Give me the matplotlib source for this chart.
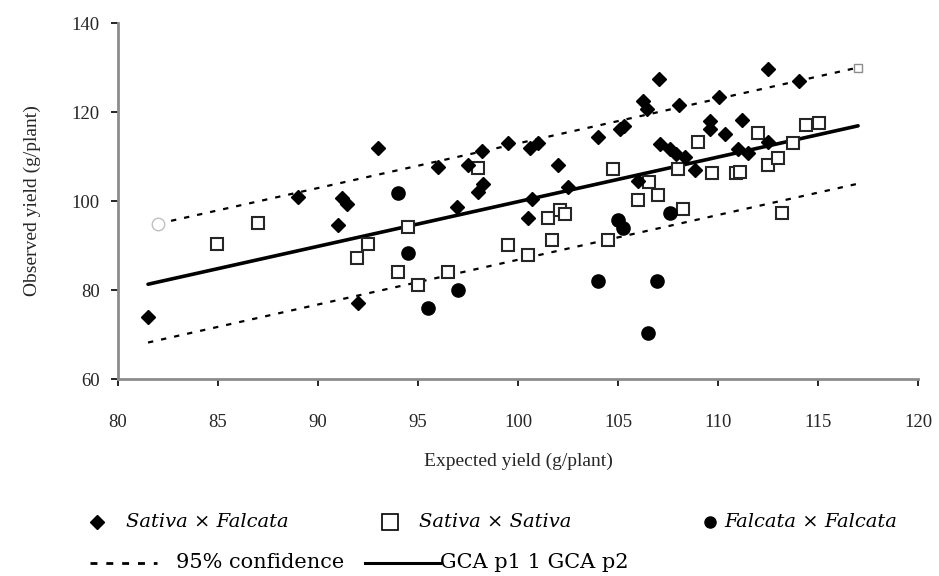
import matplotlib
matplotlib.use("Agg")
import matplotlib.pyplot as plt
from matplotlib.lines import Line2D

plt.rcParams["font.family"] = ["Liberation Serif", "DejaVu Serif"]

# Sativa x Falcata (filled diamonds)
sf_x = [81.5, 89.0, 91.2, 91.45, 91.0, 93.0, 92.0, 96.0, 97.5, 98.2, 98.25, 98.0, 96.95,
        99.5, 100.6, 101.0, 100.7, 102.0, 102.5, 100.5, 104.0, 105.1, 105.3, 106.25, 106.45,
        107.05, 106.0, 107.1, 107.6, 107.9, 108.35, 108.85, 108.05, 110.05, 109.6, 109.6,
        110.35, 111.2, 111.0, 111.5, 112.5, 112.5, 114.05]
sf_y = [74.0, 101.0, 100.7, 99.4, 94.7, 111.9, 77.0, 107.6, 108.1, 111.3, 103.8, 102.0, 98.7,
        113.0, 112.0, 113.0, 100.5, 108.0, 103.2, 96.2, 114.3, 116.2, 116.8, 122.5, 120.7,
        127.5, 104.6, 112.9, 111.8, 110.6, 109.8, 107.0, 121.6, 123.3, 118.0, 116.2,
        115.0, 118.1, 111.7, 110.8, 113.2, 129.7, 127.0]

# Sativa x Sativa (open squares)
ss_x = [84.95, 87.0, 92.5, 91.95, 94.5, 94.0, 95.0, 96.5, 98.0, 99.5, 100.5, 101.5, 102.1,
        102.35, 101.7, 104.5, 104.75, 106.0, 106.55, 107.0, 108.25, 108.0, 109.0, 109.7,
        110.9, 111.1, 112.0, 112.5, 113.0, 113.75, 114.4, 115.05, 113.2]
ss_y = [90.4, 95.1, 90.4, 87.1, 94.2, 84.0, 81.1, 84.0, 107.4, 90.1, 87.9, 96.2, 98.0,
        97.1, 91.2, 91.2, 107.2, 100.2, 104.3, 101.3, 98.3, 107.3, 113.3, 106.3,
        106.2, 106.6, 115.3, 108.1, 109.7, 113.1, 117.1, 117.5, 97.2]

# Falcata x Falcata (filled circles)
ff_x = [94.0, 94.5, 95.5, 97.0, 104.0, 105.0, 105.25, 106.5, 106.95, 107.6]
ff_y = [101.9, 88.3, 76.0, 80.0, 82.0, 95.7, 93.9, 70.3, 82.0, 97.2]

# regression line and 95% confidence limits (end points)
fit_x = [81.5, 117.0]
fit_y = [81.3, 116.9]
up_x = [82.0, 117.0]
up_y = [94.9, 130.0]
lo_x = [81.5, 117.0]
lo_y = [68.2, 103.9]

fig = plt.figure(figsize=(9.39, 5.76), dpi=100)
ax = fig.add_axes([0.1257, 0.342, 0.852, 0.618])

dash = (0, (2.4, 3.6))
ax.plot(up_x, up_y, color="black", lw=1.6, ls=dash, zorder=2)
ax.plot(lo_x, lo_y, color="black", lw=1.6, ls=dash, zorder=2)
ax.plot(up_x[:1], up_y[:1], "o", ms=9, mfc="white", mec="0.75", mew=1, zorder=3)
ax.plot(up_x[1:], up_y[1:], "s", ms=6, mfc="white", mec="0.55", mew=1, zorder=3)
ax.plot(fit_x, fit_y, color="black", lw=2.6, solid_capstyle="round", zorder=2)

ax.plot(sf_x, sf_y, "D", ls="none", ms=7.5, color="black", zorder=4)
ax.plot(ss_x, ss_y, "s", ls="none", ms=9, mfc="white", mec="0.15", mew=1.5, zorder=3)
ax.plot(ff_x, ff_y, "o", ls="none", ms=9.5, color="black", zorder=4)

ax.set_xlim(80, 120)
ax.set_ylim(60, 140)
ax.set_xticks(range(80, 121, 5))
ax.set_yticks(range(60, 141, 20))
for s in ["top", "right"]:
    ax.spines[s].set_visible(False)
for s in ["left", "bottom"]:
    ax.spines[s].set_color("0.55")
    ax.spines[s].set_linewidth(2)
ax.tick_params(direction="out", length=5, width=1.2, labelsize=13.5, color="black",
               labelcolor="0.15")
ax.tick_params(axis="x", pad=20)
ax.tick_params(axis="y", pad=8)
ax.set_xlabel("Expected yield (g/plant)", fontsize=14, labelpad=16, color="0.15")
ax.set_ylabel("Observed yield (g/plant)", fontsize=14, labelpad=22, color="0.15")

# legend built by hand below the axes
lfont = "DejaVu Serif"
ly1 = 1 - 522 / 576
ly2 = 1 - 563 / 576
fw = 939.0
fig.add_artist(Line2D([97 / fw], [ly1], marker="D", ms=7, color="black", transform=fig.transFigure))
fig.text(126 / fw, ly1, "Sativa × Falcata", family=lfont, style="italic", fontsize=14, va="center")
fig.add_artist(Line2D([390 / fw], [ly1], marker="s", ms=12, mfc="white", mec="black", mew=1.2,
                      transform=fig.transFigure))
fig.text(419 / fw, ly1, "Sativa × Sativa", family=lfont, style="italic", fontsize=14, va="center")
fig.add_artist(Line2D([710 / fw], [ly1], marker="o", ms=8, color="black", transform=fig.transFigure))
fig.text(724 / fw, ly1, "Falcata × Falcata", family=lfont, style="italic", fontsize=14, va="center")
fig.add_artist(Line2D([90 / fw, 157 / fw], [ly2, ly2], color="black", lw=2, ls=(0, (2.5, 3.2)),
                      transform=fig.transFigure))
fig.text(176 / fw, ly2, "95% confidence", family=lfont, fontsize=15, va="center")
fig.add_artist(Line2D([365 / fw, 440 / fw], [ly2, ly2], color="black", lw=2.2,
                      transform=fig.transFigure))
fig.text(440 / fw, ly2, "GCA p1 1 GCA p2", family=lfont, fontsize=15, va="center")

fig.savefig("out.png", dpi=100)
